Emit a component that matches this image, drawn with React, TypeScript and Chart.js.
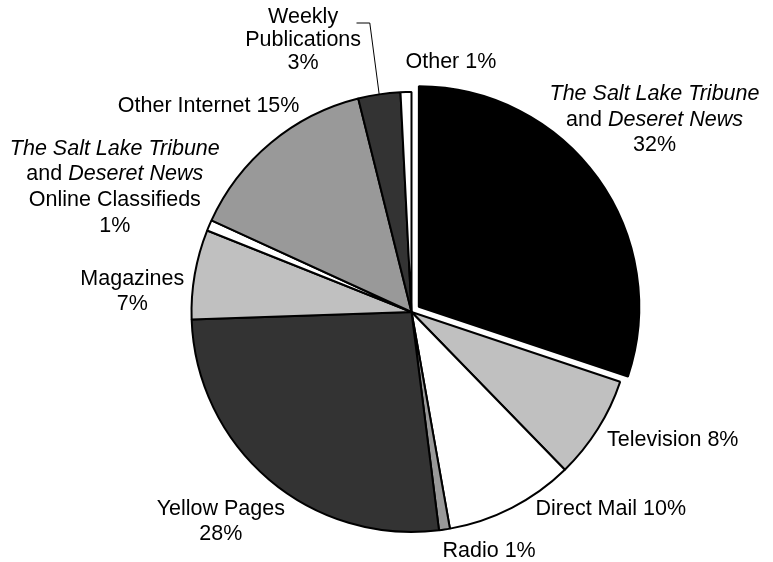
import React, { useEffect, useRef } from "react";
import { Chart, registerables } from "chart.js";

Chart.register(...registerables);

// ---- data ----
const categories = [
  "The Salt Lake Tribune and Deseret News",
  "Television",
  "Direct Mail",
  "Radio",
  "Yellow Pages",
  "Magazines",
  "The Salt Lake Tribune and Deseret News Online Classifieds",
  "Other Internet",
  "Weekly Publications",
  "Other",
];
const shares = [30.2, 7.6, 9.5, 0.8, 26.5, 6.6, 0.8, 14.3, 3.1, 0.8];
const percentLabels = ["32%", "8%", "10%", "1%", "28%", "7%", "1%", "15%", "3%", "1%"];
// label text lines (*...* = italic)
const labelLines = [
  ["*The Salt Lake Tribune*", "and *Deseret News*"],
  ["Television"],
  ["Direct Mail"],
  ["Radio"],
  ["Yellow Pages"],
  ["Magazines"],
  ["*The Salt Lake Tribune*", "and *Deseret News*", "Online Classifieds"],
  ["Other Internet"],
  ["Weekly", "Publications"],
  ["Other"],
];

// ---- styles / layout ----
const sliceColors = [
  "#000000",
  "#c0c0c0",
  "#ffffff",
  "#999999",
  "#333333",
  "#c0c0c0",
  "#ffffff",
  "#999999",
  "#333333",
  "#ffffff",
];
const sliceOffsets = [36, 0, 0, 0, 0, 0, 0, 0, 0, 0];
type Layout = { dx: number; dy: number; align: "left" | "center"; lh: number; inline: boolean };
const labelLayout: Layout[] = [
  { dx: 243, dy: -217.5, align: "center", lh: 25.5, inline: false },
  { dx: 195.5, dy: 128.3, align: "left", lh: 25, inline: true },
  { dx: 124, dy: 197.3, align: "left", lh: 25, inline: true },
  { dx: 31, dy: 239.3, align: "left", lh: 25, inline: true },
  { dx: -190.7, dy: 196.6, align: "center", lh: 25.7, inline: false },
  { dx: -279.2, dy: -33.4, align: "center", lh: 25.7, inline: false },
  { dx: -296.7, dy: -163.4, align: "center", lh: 25.8, inline: false },
  { dx: -202.9, dy: -205.7, align: "center", lh: 25, inline: true },
  { dx: -108.4, dy: -294.7, align: "center", lh: 23, inline: false },
  { dx: -6, dy: -250, align: "left", lh: 25, inline: true },
];
const FONT_SIZE = 21.5;
const FONT_FAMILY = '"Liberation Sans", Arial, Helvetica, sans-serif';
const fontFor = (italic: boolean) => `${italic ? "italic " : ""}${FONT_SIZE}px ${FONT_FAMILY}`;

const parseSegments = (line: string) =>
  line
    .split("*")
    .map((text, k) => ({ text, italic: k % 2 === 1 }))
    .filter((s) => s.text.length > 0);

const labelPlugin = {
  id: "sliceLabels",
  afterDatasetsDraw(chart: any) {
    const ctx: CanvasRenderingContext2D = chart.ctx;
    const meta = chart.getDatasetMeta(0);
    const ref = meta.data[1] as any;
    const cx = ref.x;
    const cy = ref.y;
    ctx.save();
    ctx.fillStyle = "#000000";
    ctx.textBaseline = "middle";
    ctx.textAlign = "left";
    labelLines.forEach((lines, i) => {
      const L = labelLayout[i];
      const all = L.inline
        ? [...lines.slice(0, -1), lines[lines.length - 1] + " " + percentLabels[i]]
        : [...lines, percentLabels[i]];
      all.forEach((line, j) => {
        const segs = parseSegments(line);
        const widths = segs.map((s) => {
          ctx.font = fontFor(s.italic);
          return ctx.measureText(s.text).width;
        });
        const total = widths.reduce((a, b) => a + b, 0);
        let x = cx + L.dx - (L.align === "center" ? total / 2 : 0);
        const y = cy + L.dy + j * L.lh;
        segs.forEach((s, k) => {
          ctx.font = fontFor(s.italic);
          ctx.fillText(s.text, x, y);
          x += widths[k];
        });
      });
    });
    // leader line for Weekly Publications
    const wk = meta.data[8] as any;
    const mid = (wk.startAngle + wk.endAngle) / 2;
    const ex = wk.x + Math.cos(mid) * wk.outerRadius;
    const ey = wk.y + Math.sin(mid) * wk.outerRadius;
    ctx.strokeStyle = "#000000";
    ctx.lineWidth = 1;
    ctx.beginPath();
    ctx.moveTo(cx - 55, cy - 289);
    ctx.lineTo(cx - 41.7, cy - 289);
    ctx.lineTo(ex, ey);
    ctx.stroke();
    ctx.restore();
  },
};

export default function App() {
  const canvasRef = useRef<HTMLCanvasElement | null>(null);

  useEffect(() => {
    if (!canvasRef.current) return;
    const chart = new Chart(canvasRef.current, {
      type: "pie",
      data: {
        labels: categories,
        datasets: [
          {
            data: shares,
            backgroundColor: sliceColors,
            borderColor: "#000000",
            borderWidth: 2,
            offset: sliceOffsets,
          } as any,
        ],
      },
      options: {
        responsive: false,
        animation: false,
        radius: 220,
        layout: { padding: { left: 50, right: 0, top: 62, bottom: 0 } },
        plugins: {
          legend: { display: false },
          tooltip: { enabled: false },
          title: { display: false },
        },
      } as any,
      plugins: [labelPlugin],
    });
    return () => chart.destroy();
  }, []);

  return (
    <div style={{ position: "absolute", left: 0, top: 0, width: 773, height: 562, background: "#ffffff" }}>
      <canvas ref={canvasRef} width={773} height={562} />
    </div>
  );
}
